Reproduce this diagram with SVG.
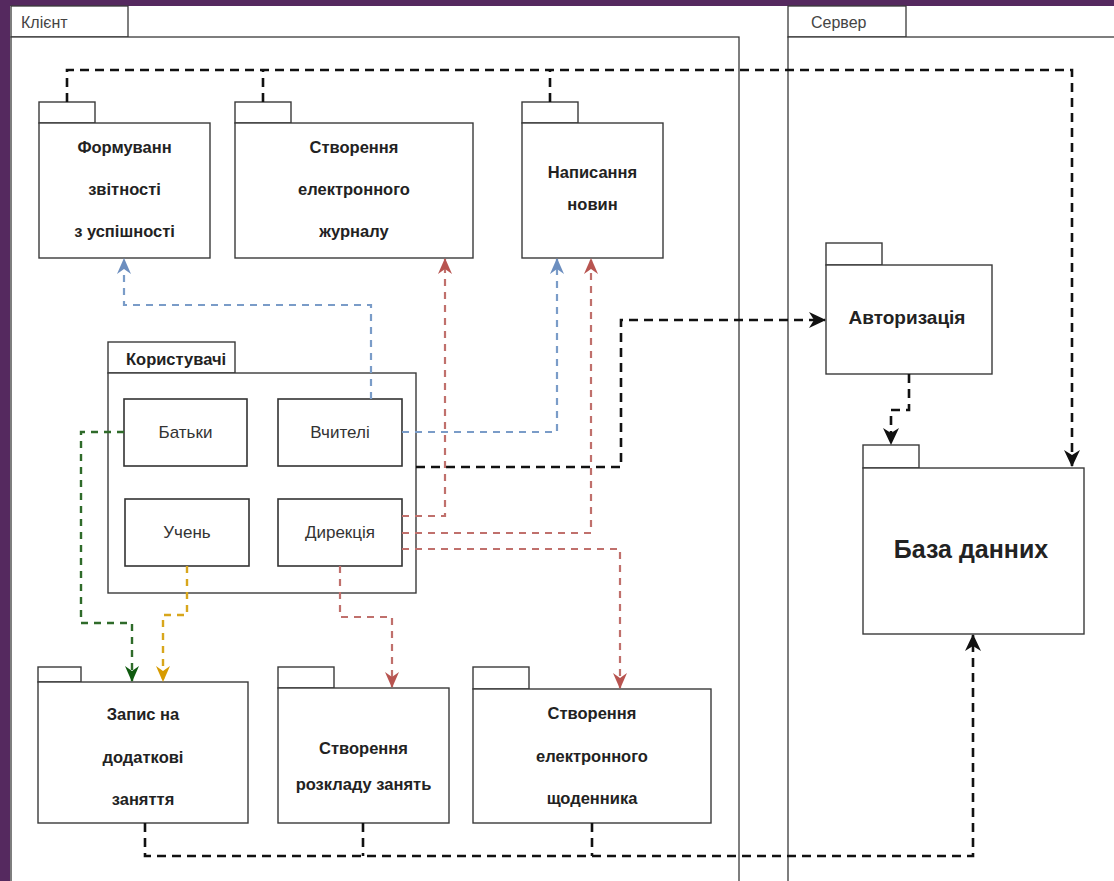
<svg xmlns="http://www.w3.org/2000/svg" width="1114" height="881" viewBox="0 0 1114 881">
<defs>
<style>
.frame{fill:#fff;stroke:#3a3a3a;stroke-width:1.3}
.pkg{fill:#fff;stroke:#3a3a3a;stroke-width:1.4}
.box{fill:#fff;stroke:#333;stroke-width:1.6}
.tabt{font-family:"Liberation Sans",Arial,sans-serif;font-size:16px;fill:#444}
.lbl{font-family:"Liberation Sans",Arial,sans-serif;font-size:16.5px;font-weight:bold;fill:#222;text-anchor:middle}
.inner{font-family:"Liberation Sans",Arial,sans-serif;font-size:17px;fill:#333;text-anchor:middle}
.blk{fill:none;stroke:#111;stroke-width:2.6;stroke-dasharray:9 6}
.blu{fill:none;stroke:#7a9cc8;stroke-width:2.2;stroke-dasharray:7 6}
.red{fill:none;stroke:#c0706c;stroke-width:2.2;stroke-dasharray:7 6}
.grn{fill:none;stroke:#2f6b2a;stroke-width:2.4;stroke-dasharray:7 6}
.yel{fill:none;stroke:#d8a61c;stroke-width:2.4;stroke-dasharray:7 6}
</style>
<marker id="aBlk" markerWidth="17" markerHeight="16" refX="16" refY="8" orient="auto" markerUnits="userSpaceOnUse"><path d="M0,0 L17,8 L0,16 L5,8 z" fill="#111"/></marker>
<marker id="aBlu" markerWidth="16" markerHeight="14" refX="15" refY="7" orient="auto" markerUnits="userSpaceOnUse"><path d="M0,0 L16,7 L0,14 L5,7 z" fill="#6c8ebf"/></marker>
<marker id="aRed" markerWidth="16" markerHeight="14" refX="15" refY="7" orient="auto" markerUnits="userSpaceOnUse"><path d="M0,0 L16,7 L0,14 L5,7 z" fill="#b85450"/></marker>
<marker id="aGrn" markerWidth="16" markerHeight="14" refX="15" refY="7" orient="auto" markerUnits="userSpaceOnUse"><path d="M0,0 L16,7 L0,14 L5,7 z" fill="#0f5a0f"/></marker>
<marker id="aYel" markerWidth="16" markerHeight="14" refX="15" refY="7" orient="auto" markerUnits="userSpaceOnUse"><path d="M0,0 L16,7 L0,14 L5,7 z" fill="#d79b00"/></marker>
</defs>
<rect x="0" y="0" width="1114" height="881" fill="#55295f"/>
<rect x="10" y="6" width="1104" height="875" fill="#fff"/>

<g id="client">
<rect class="frame" x="11" y="6" width="117" height="31"/>
<rect class="frame" x="11" y="37" width="728" height="850"/>
<text class="tabt" x="21" y="28">Клієнт</text>
</g>
<g id="server">
<rect class="frame" x="788" y="6" width="118" height="31"/>
<rect class="frame" x="788" y="37" width="340" height="850"/>
<text class="tabt" x="811" y="28">Сервер</text>
</g>

<g id="pkg-report">
<rect class="pkg" x="39" y="102" width="56" height="21"/>
<rect class="pkg" x="39" y="123" width="171" height="135"/>
<text class="lbl" x="124.5" y="153">Формуванн</text>
<text class="lbl" x="124.5" y="195">звітності</text>
<text class="lbl" x="124.5" y="237">з успішності</text>
</g>
<g id="pkg-journal">
<rect class="pkg" x="235" y="102" width="56" height="21"/>
<rect class="pkg" x="235" y="123" width="238" height="135"/>
<text class="lbl" x="354" y="153">Створення</text>
<text class="lbl" x="354" y="195">електронного</text>
<text class="lbl" x="354" y="237">журналу</text>
</g>
<g id="pkg-news">
<rect class="pkg" x="522" y="102" width="56" height="21"/>
<rect class="pkg" x="522" y="123" width="141" height="135"/>
<text class="lbl" x="592.5" y="178">Написання</text>
<text class="lbl" x="592.5" y="210">новин</text>
</g>
<g id="pkg-auth">
<rect class="pkg" x="826" y="243" width="56" height="22"/>
<rect class="pkg" x="826" y="265" width="166" height="109"/>
<text class="lbl" x="907" y="324" style="font-size:19px">Авторизація</text>
</g>
<g id="pkg-db">
<rect class="pkg" x="863" y="445" width="56" height="23"/>
<rect class="pkg" x="863" y="468" width="221" height="166"/>
<text class="lbl" x="971" y="558" style="font-size:25px">База данних</text>
</g>
<g id="pkg-users">
<rect class="pkg" x="108" y="342" width="127" height="31"/>
<rect class="pkg" x="108" y="373" width="308" height="220"/>
<text class="lbl" x="126" y="365" style="text-anchor:start">Користувачі</text>
</g>
<g id="parents">
<rect class="box" x="124" y="399" width="123" height="67"/>
<text class="inner" x="185.5" y="438">Батьки</text>
</g>
<g id="teachers">
<rect class="box" x="278" y="399" width="124" height="67"/>
<text class="inner" x="340" y="438">Вчителі</text>
</g>
<g id="student">
<rect class="box" x="125" y="499" width="124" height="67"/>
<text class="inner" x="187" y="538">Учень</text>
</g>
<g id="direction">
<rect class="box" x="278" y="499" width="124" height="67"/>
<text class="inner" x="340" y="538">Дирекція</text>
</g>
<g id="pkg-extra">
<rect class="pkg" x="38" y="667" width="43" height="15"/>
<rect class="pkg" x="38" y="682" width="210" height="141"/>
<text class="lbl" x="143" y="720">Запис на</text>
<text class="lbl" x="143" y="763">додаткові</text>
<text class="lbl" x="143" y="805">заняття</text>
</g>
<g id="pkg-schedule">
<rect class="pkg" x="278" y="667" width="56" height="21"/>
<rect class="pkg" x="278" y="688" width="171" height="135"/>
<text class="lbl" x="363.5" y="754">Створення</text>
<text class="lbl" x="363.5" y="790">розкладу занять</text>
</g>
<g id="pkg-diary">
<rect class="pkg" x="473" y="667" width="56" height="22"/>
<rect class="pkg" x="473" y="689" width="238" height="134"/>
<text class="lbl" x="592" y="719">Створення</text>
<text class="lbl" x="592" y="762">електронного</text>
<text class="lbl" x="592" y="804">щоденника</text>
</g>

<g id="connectors">
<path class="blk" d="M67,102 V70 H1072 V466" marker-end="url(#aBlk)"/>
<path class="blk" d="M263,102 V70"/>
<path class="blk" d="M550,102 V70"/>
<path class="blk" d="M416,467 H621 V320 H825" marker-end="url(#aBlk)"/>
<path class="blk" d="M909,374 V410 H891 V444" marker-end="url(#aBlk)"/>
<path class="blk" d="M145,823 V856 H973 V635" marker-end="url(#aBlk)"/>
<path class="blk" d="M363,823 V856"/>
<path class="blk" d="M592,823 V856"/>
<path class="blu" d="M371,399 V305 H124 V259" marker-end="url(#aBlu)"/>
<path class="blu" d="M402,432 H557 V259" marker-end="url(#aBlu)"/>
<path class="red" d="M402,516 H445 V259" marker-end="url(#aRed)"/>
<path class="red" d="M402,533 H591 V259" marker-end="url(#aRed)"/>
<path class="red" d="M402,549 H620 V688" marker-end="url(#aRed)"/>
<path class="red" d="M340,566 V617 H392 V687" marker-end="url(#aRed)"/>
<path class="grn" d="M124,432 H81 V623 H132 V681" marker-end="url(#aGrn)"/>
<path class="yel" d="M187,566 V615 H163 V681" marker-end="url(#aYel)"/>
</g>
</svg>
